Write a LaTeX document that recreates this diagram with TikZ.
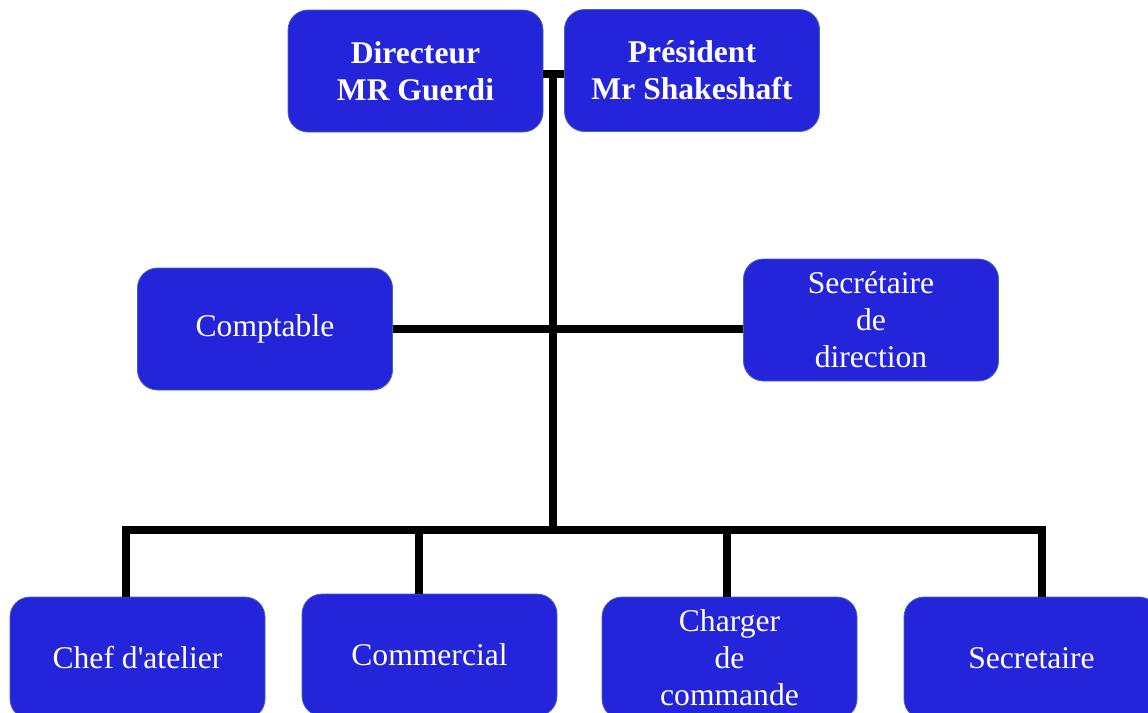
\documentclass[tikz,border=0pt]{standalone}
\usepackage{fontspec}
\setmainfont{Liberation Serif}
\usetikzlibrary{positioning}

\definecolor{boxblue}{RGB}{36,36,218}
\definecolor{boxedge}{RGB}{70,100,170}

\begin{document}
\begin{tikzpicture}[x=0.5pt,y=-0.5pt]
			\clip (0,0) rectangle (1148,713);
			\begin{scope}[every node/.style={rectangle,rounded corners=10pt,fill=boxblue,draw=boxedge,thin,
				minimum width=127.5pt,minimum height=61pt,text=white,align=center,
				font=\fontsize{15.8}{18.5}\selectfont}]
				\node[font=\fontsize{15.8}{18.5}\selectfont\bfseries] (dir) at (415.5,71) {Directeur\\MR Guerdi};
				\node[font=\fontsize{15.8}{18.5}\selectfont\bfseries] (pres) at (692,70.5) {Président\\Mr Shakeshaft};
				\node (compt) at (265,329) {Comptable};
				\node (secdir) at (871,320) {Secrétaire\\de\\direction};
				\node (chef) at (137.5,658) {Chef d\textquotesingle atelier};
				\node (comm) at (429.5,655) {Commercial};
				\node (charg) at (729.5,658) {Charger\\de\\commande};
				\node (secr) at (1031.5,658) {Secretaire};
			\end{scope}

			\coordinate (top) at (553,74);
			\coordinate (bus) at (553,530);
			\coordinate (b1) at (126,530);
			\coordinate (b2) at (419,530);
			\coordinate (b3) at (727,530);
			\coordinate (b4) at (1042,530);

			\begin{scope}[line width=4pt]
				\draw (dir.east |- top) -- (pres.west |- top);
				\draw (top) -- (bus);
				\draw (compt.east) -- (secdir.west |- compt.east);
				\draw (b1 |- chef.north) -- (b1) -- (b4) -- (b4 |- secr.north);
				\draw (b2) -- (b2 |- comm.north);
				\draw (b3) -- (b3 |- charg.north);
			\end{scope}
		\end{tikzpicture}
\end{document}
